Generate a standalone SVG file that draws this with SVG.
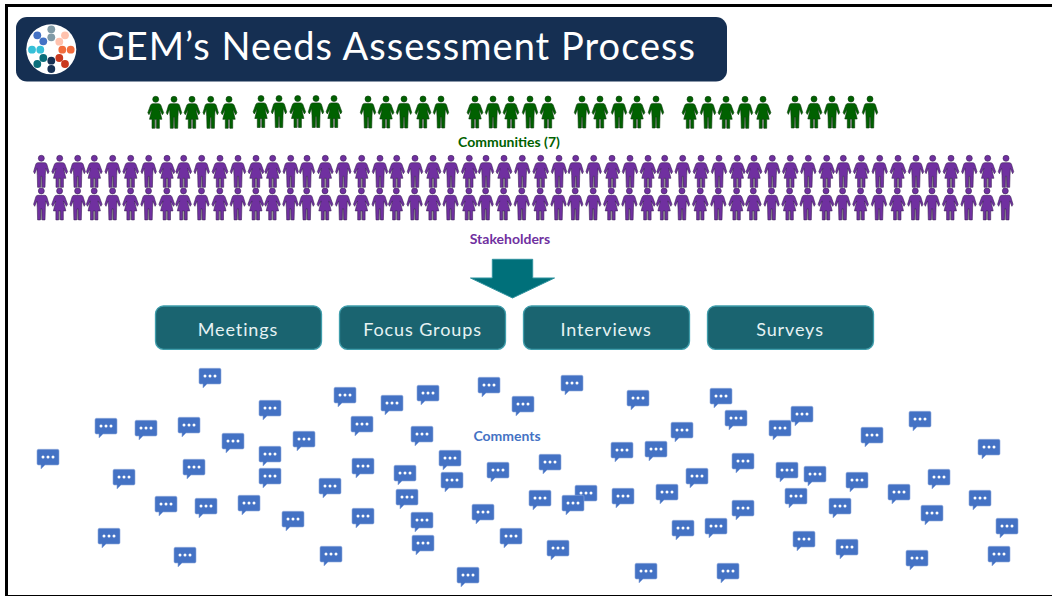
<svg xmlns="http://www.w3.org/2000/svg" xmlns:xlink="http://www.w3.org/1999/xlink" width="1052" height="596" viewBox="0 0 1052 596">
<style>
text{font-family:"Lato","Liberation Sans",sans-serif}
.box{fill:#1a6470;stroke:#3f9dab;stroke-width:1.3}
.bt{fill:#e6f2f3;font-size:18px;text-anchor:middle;letter-spacing:.9px}
.lb{font-size:14px;font-weight:700;text-anchor:middle}
.g{fill:#006100;stroke:#0a3d0a;stroke-width:.6}
.p{fill:#7030a0;stroke:#3c2057;stroke-width:.6}
.d{stroke:none}
</style>
<defs>
<g id="m"><rect class="d" x="-1" y="17" width="2.4" height="12" fill="#9a9a9a"/><circle cx="0" cy="0" r="3"/><path d="M-3.5,4.4H3.5Q5,4.4 5.5,6L7.7,13.4 6.6,15.4 4.4,10 4,17 3.7,29H.9L.6,18H-.6L-.9,29H-3.7L-4,17-4.4,10-6.6,15.4-7.7,13.4-5.5,6Q-5,4.4-3.5,4.4Z"/></g>
<g id="f"><rect class="d" x="-1" y="19" width="2.4" height="10" fill="#9a9a9a"/><circle cx="0" cy="0" r="3"/><path d="M-3,4.4H3Q4.6,4.4 5.2,6L7.9,13.4 6.7,15.4 3.8,10 6.2,20H3.7V29H1V20H-1V29H-3.7V20H-6.2L-3.8,10-6.7,15.4-7.9,13.4-5.2,6Q-4.6,4.4-3,4.4Z"/></g>
<g id="c"><path d="M-11,-6.2Q-11,-7.7-9.5,-7.7H9.5Q11,-7.7 11,-6.2V6.5Q11,8 9.5,8H-3L-7,12V8H-9.5Q-11,8-11,6.5Z" fill="#4472c4" stroke="#8faadc" stroke-width=".6"/><circle cx="-5" cy="0" r="1.5" fill="#fff"/><circle cx="0" cy="0" r="1.5" fill="#fff"/><circle cx="5" cy="0" r="1.5" fill="#fff"/></g>
</defs>
<rect width="1052" height="596" fill="#fff"/>
<g id="frame" fill="#000"><rect x="5" y="4" width="1047" height="3"/><rect x="5" y="4" width="3" height="592"/><rect x="5" y="595" width="1047" height="1"/></g>
<g id="title">
<rect x="16" y="17" width="711" height="64.5" rx="11" fill="#152f52"/>
<circle cx="51.3" cy="49.3" r="25" fill="#fff"/>
<g fill="#7f9aa6"><circle cx="51.3" cy="29.3" r="3.9"/><circle cx="51.3" cy="37.3" r="3.9"/></g>
<g fill="#4472c4"><circle cx="37.3" cy="35.3" r="3.9"/><circle cx="43.3" cy="41.3" r="3.9"/></g>
<g fill="#ffc2ae"><circle cx="65" cy="35.3" r="3.9"/><circle cx="59.3" cy="41.7" r="3.9"/></g>
<g fill="#f26c3c"><circle cx="70.7" cy="49.7" r="3.9"/><circle cx="62.3" cy="49.7" r="3.9"/></g>
<g fill="#c9391f"><circle cx="59.3" cy="58" r="3.9"/><circle cx="65" cy="64" r="3.9"/></g>
<g fill="#152f52"><circle cx="51.3" cy="60.7" r="3.9"/><circle cx="51.3" cy="69" r="3.9"/></g>
<g fill="#0a6e7a"><circle cx="43.3" cy="58" r="3.9"/><circle cx="37.3" cy="64" r="3.9"/></g>
<g fill="#36c0d8"><circle cx="32" cy="49.7" r="3.9"/><circle cx="40.3" cy="49.7" r="3.9"/></g>
<text x="97" y="60" font-size="38" fill="#fff" textLength="598" lengthAdjust="spacing">GEM’s Needs Assessment Process</text>
</g>
<g id="communities" class="g">
<use href="#f" x="155.7" y="99.3"/><use href="#m" x="174" y="99.3"/><use href="#f" x="192" y="99.3"/><use href="#m" x="210.7" y="99.3"/><use href="#f" x="229" y="99.3"/>
<use href="#f" x="261" y="98.5"/><use href="#m" x="279" y="98.5"/><use href="#f" x="297.7" y="98.5"/><use href="#m" x="316" y="98.5"/><use href="#f" x="334" y="98.5"/>
<use href="#m" x="368" y="99"/><use href="#f" x="386" y="99"/><use href="#m" x="404" y="99"/><use href="#f" x="423" y="99"/><use href="#m" x="441" y="99"/>
<use href="#f" x="475" y="99"/><use href="#m" x="493" y="99"/><use href="#f" x="511" y="99"/><use href="#m" x="530" y="99"/><use href="#f" x="548" y="99"/>
<use href="#m" x="582" y="99"/><use href="#f" x="600" y="99"/><use href="#m" x="619" y="99"/><use href="#f" x="637" y="99"/><use href="#m" x="656" y="99"/>
<use href="#f" x="690" y="99.3"/><use href="#m" x="708" y="99.3"/><use href="#f" x="726" y="99.3"/><use href="#m" x="745" y="99.3"/><use href="#f" x="763" y="99.3"/>
<use href="#m" x="795" y="99"/><use href="#f" x="814" y="99"/><use href="#m" x="832" y="99"/><use href="#f" x="851" y="99"/><use href="#m" x="870" y="99"/>
</g>
<text id="communities-label" class="lb" x="509" y="147" fill="#006100">Communities (7)</text>
<g id="stakeholders-1" class="p">
<use href="#m" x="41.3" y="158.3"/><use href="#f" x="59.7" y="158.3"/><use href="#m" x="77.7" y="158.3"/><use href="#f" x="94.3" y="158.3"/><use href="#m" x="112.7" y="158.3"/><use href="#f" x="130.7" y="158.3"/><use href="#m" x="148.7" y="158.3"/><use href="#f" x="167" y="158.3"/><use href="#f" x="183.7" y="158.3"/><use href="#m" x="201.7" y="158.3"/><use href="#f" x="220" y="158.3"/><use href="#m" x="238" y="158.3"/><use href="#f" x="256" y="158.3"/><use href="#f" x="272.7" y="158.3"/><use href="#m" x="290.7" y="158.3"/><use href="#m" x="307" y="158.3"/><use href="#f" x="325.3" y="158.3"/><use href="#m" x="343.3" y="158.3"/><use href="#f" x="361.7" y="158.3"/>
<use href="#m" x="380" y="158.3"/><use href="#f" x="396.7" y="158.3"/><use href="#m" x="415" y="158.3"/><use href="#f" x="433" y="158.3"/><use href="#m" x="451" y="158.3"/><use href="#f" x="469.3" y="158.3"/><use href="#m" x="486" y="158.3"/><use href="#f" x="504" y="158.3"/><use href="#m" x="522.3" y="158.3"/><use href="#f" x="540.7" y="158.3"/><use href="#m" x="559" y="158.3"/><use href="#m" x="575.7" y="158.3"/><use href="#m" x="593.7" y="158.3"/><use href="#f" x="612" y="158.3"/><use href="#m" x="630" y="158.3"/><use href="#f" x="648" y="158.3"/><use href="#f" x="664.7" y="158.3"/><use href="#m" x="682.7" y="158.3"/><use href="#f" x="701" y="158.3"/>
<use href="#m" x="719" y="158.3"/><use href="#f" x="737.3" y="158.3"/><use href="#f" x="754" y="158.3"/><use href="#m" x="772.3" y="158.3"/><use href="#f" x="790.3" y="158.3"/><use href="#m" x="808.3" y="158.3"/><use href="#f" x="826.7" y="158.3"/><use href="#m" x="843.3" y="158.3"/><use href="#f" x="861.3" y="158.3"/><use href="#m" x="879.7" y="158.3"/><use href="#f" x="898" y="158.3"/><use href="#m" x="916" y="158.3"/><use href="#m" x="932.7" y="158.3"/><use href="#f" x="951" y="158.3"/><use href="#m" x="969.3" y="158.3"/><use href="#f" x="987.7" y="158.3"/><use href="#m" x="1006" y="158.3"/>
</g>
<g id="stakeholders-2" class="p" transform="translate(0 32.6)">
<use href="#m" x="41.3" y="158.3"/><use href="#f" x="59.6" y="158.3"/><use href="#m" x="77.6" y="158.3"/><use href="#f" x="94.2" y="158.3"/><use href="#m" x="112.6" y="158.3"/><use href="#f" x="130.6" y="158.3"/><use href="#m" x="148.5" y="158.3"/><use href="#f" x="166.8" y="158.3"/><use href="#f" x="183.5" y="158.3"/><use href="#m" x="201.5" y="158.3"/><use href="#f" x="219.8" y="158.3"/><use href="#m" x="237.8" y="158.3"/><use href="#f" x="255.8" y="158.3"/><use href="#f" x="272.4" y="158.3"/><use href="#m" x="290.4" y="158.3"/><use href="#m" x="306.7" y="158.3"/><use href="#f" x="325" y="158.3"/><use href="#m" x="343" y="158.3"/><use href="#f" x="361.4" y="158.3"/>
<use href="#m" x="379.7" y="158.3"/><use href="#f" x="396.3" y="158.3"/><use href="#m" x="414.6" y="158.3"/><use href="#f" x="432.6" y="158.3"/><use href="#m" x="450.6" y="158.3"/><use href="#f" x="468.9" y="158.3"/><use href="#m" x="485.6" y="158.3"/><use href="#f" x="503.6" y="158.3"/><use href="#m" x="521.8" y="158.3"/><use href="#f" x="540.2" y="158.3"/><use href="#m" x="558.5" y="158.3"/><use href="#m" x="575.2" y="158.3"/><use href="#m" x="593.2" y="158.3"/><use href="#f" x="611.4" y="158.3"/><use href="#m" x="629.4" y="158.3"/><use href="#f" x="647.4" y="158.3"/><use href="#f" x="664.1" y="158.3"/><use href="#m" x="682" y="158.3"/><use href="#f" x="700.3" y="158.3"/>
<use href="#m" x="718.3" y="158.3"/><use href="#f" x="736.6" y="158.3"/><use href="#f" x="753.3" y="158.3"/><use href="#m" x="771.6" y="158.3"/><use href="#f" x="789.6" y="158.3"/><use href="#m" x="807.6" y="158.3"/><use href="#f" x="826" y="158.3"/><use href="#m" x="842.6" y="158.3"/><use href="#f" x="860.6" y="158.3"/><use href="#m" x="879" y="158.3"/><use href="#f" x="897.3" y="158.3"/><use href="#m" x="915.3" y="158.3"/><use href="#m" x="932" y="158.3"/><use href="#f" x="950.3" y="158.3"/><use href="#m" x="968.6" y="158.3"/><use href="#f" x="987" y="158.3"/><use href="#m" x="1005.3" y="158.3"/>
</g>
<text id="stakeholders-label" class="lb" x="510" y="244" fill="#7030a0">Stakeholders</text>
<g id="connectors"><path d="M492.3,259.3H532.7V278H554.5L512.5,298 470.5,278H492.3Z" fill="#00707a" stroke="#2f929e" stroke-width="1"/></g>
<g id="meetings"><rect class="box" x="155.5" y="306" width="166" height="43.3" rx="8"/><text class="bt" x="238" y="336">Meetings</text></g>
<g id="focus-groups"><rect class="box" x="339.5" y="306" width="166" height="43.3" rx="8"/><text class="bt" x="422.5" y="336">Focus Groups</text></g>
<g id="interviews"><rect class="box" x="523.5" y="306" width="166" height="43.3" rx="8"/><text class="bt" x="606" y="336">Interviews</text></g>
<g id="surveys"><rect class="box" x="707.5" y="306" width="166" height="43.3" rx="8"/><text class="bt" x="790" y="336">Surveys</text></g>
<text id="comments-label" class="lb" x="507" y="441" fill="#4472c4">Comments</text>
<g id="comments">
<use href="#c" x="210" y="376"/><use href="#c" x="345" y="395"/><use href="#c" x="428" y="393"/><use href="#c" x="489" y="385"/><use href="#c" x="572" y="383"/><use href="#c" x="638" y="398"/><use href="#c" x="721" y="396"/><use href="#c" x="392" y="403"/><use href="#c" x="523" y="404"/><use href="#c" x="270" y="408"/><use href="#c" x="736" y="418"/><use href="#c" x="802" y="414"/><use href="#c" x="920" y="419"/><use href="#c" x="106" y="426"/><use href="#c" x="146" y="428"/><use href="#c" x="189" y="425"/><use href="#c" x="362" y="424"/><use href="#c" x="682" y="430"/><use href="#c" x="780" y="428"/><use href="#c" x="872" y="435"/><use href="#c" x="233" y="441"/><use href="#c" x="304" y="439"/><use href="#c" x="422" y="434"/><use href="#c" x="989" y="447"/><use href="#c" x="48" y="457"/><use href="#c" x="622" y="450"/><use href="#c" x="656" y="449"/><use href="#c" x="270" y="454"/><use href="#c" x="450" y="458"/><use href="#c" x="550" y="462"/><use href="#c" x="743" y="461"/><use href="#c" x="194" y="467"/><use href="#c" x="363" y="466"/><use href="#c" x="498" y="470"/><use href="#c" x="405" y="473"/><use href="#c" x="124" y="477"/><use href="#c" x="270" y="476"/><use href="#c" x="452" y="480"/><use href="#c" x="697" y="476"/><use href="#c" x="787" y="470"/><use href="#c" x="815" y="474"/><use href="#c" x="857" y="480"/><use href="#c" x="939" y="477"/><use href="#c" x="330" y="486"/><use href="#c" x="586" y="493"/><use href="#c" x="667" y="492"/><use href="#c" x="623" y="496"/><use href="#c" x="899" y="492"/><use href="#c" x="980" y="498"/><use href="#c" x="407" y="497"/><use href="#c" x="540" y="498"/><use href="#c" x="573" y="503"/><use href="#c" x="796" y="496"/><use href="#c" x="166" y="504"/><use href="#c" x="206" y="506"/><use href="#c" x="249" y="503"/><use href="#c" x="840" y="506"/><use href="#c" x="743" y="508"/><use href="#c" x="483" y="512"/><use href="#c" x="932" y="513"/><use href="#c" x="293" y="519"/><use href="#c" x="363" y="516"/><use href="#c" x="422" y="520"/><use href="#c" x="1007" y="526"/><use href="#c" x="683" y="528"/><use href="#c" x="716" y="526"/><use href="#c" x="109" y="536"/><use href="#c" x="511" y="536"/><use href="#c" x="804" y="539"/><use href="#c" x="423" y="543"/><use href="#c" x="558" y="548"/><use href="#c" x="847" y="547"/><use href="#c" x="185" y="555"/><use href="#c" x="331" y="554"/><use href="#c" x="999" y="554"/><use href="#c" x="917" y="558"/><use href="#c" x="468" y="575"/><use href="#c" x="646" y="571"/><use href="#c" x="728" y="571"/>
</g>
</svg>
